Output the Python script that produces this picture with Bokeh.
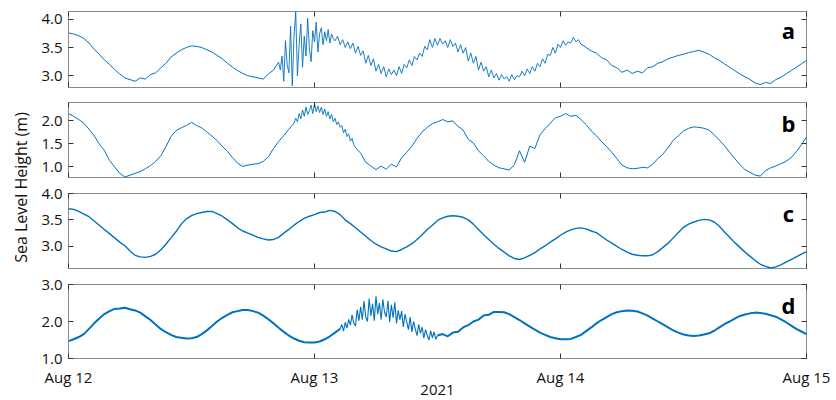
import math
from datetime import datetime, timedelta
from bokeh.plotting import figure
from bokeh.layouts import column, row
from bokeh.models import (LinearAxis, DatetimeAxis, FixedTicker, Range1d, Label,
                          PrintfTickFormatter, CustomJSTickFormatter, DatetimeTickFormatter)
from bokeh.embed import file_html
from bokeh.resources import INLINE

# ---------------- data: main series sampled every 30 min, Aug 12 00:00 -> Aug 15 00:00 ----------------
start_time = datetime(2021, 8, 12)
step_minutes = 30

sea_a = [
    3.76, 3.74, 3.71, 3.66, 3.58, 3.47, 3.38, 3.28, 3.20, 3.11, 3.03, 2.96,
    2.93, 2.90, 2.96, 2.94, 3.02, 3.05, 3.14, 3.22, 3.33, 3.40, 3.46, 3.50,
    3.53, 3.52, 3.50, 3.46, 3.42, 3.36, 3.30, 3.22, 3.15, 3.09, 3.04, 3.00,
    2.98, 2.96, 2.94, 3.03, 3.10, 3.24, 3.30, 3.40, 3.50, 3.55, 3.60, 3.62,
    3.66, 3.68, 3.68, 3.66, 3.62, 3.60, 3.56, 3.52, 3.46, 3.38, 3.30, 3.22,
    3.14, 3.09, 3.06, 3.06, 3.08, 3.14, 3.22, 3.29, 3.36, 3.45, 3.55, 3.58,
    3.60, 3.60, 3.58, 3.54, 3.48, 3.40, 3.32, 3.25, 3.18, 3.11, 3.04, 3.00,
    2.97, 2.96, 2.96, 2.98, 3.02, 3.06, 3.10, 3.16, 3.22, 3.32, 3.42, 3.50,
    3.56, 3.60, 3.62, 3.60, 3.56, 3.50, 3.44, 3.40, 3.32, 3.28, 3.18, 3.14,
    3.06, 3.10, 3.04, 3.08, 3.05, 3.14, 3.16, 3.22, 3.25, 3.30, 3.33, 3.36,
    3.38, 3.41, 3.43, 3.45, 3.42, 3.38, 3.32, 3.27, 3.21, 3.15, 3.09, 3.03,
    2.98, 2.93, 2.87, 2.84, 2.88, 2.86, 2.93, 2.97, 3.03, 3.09, 3.15, 3.21,
    3.27,
]

sea_b = [
    2.16, 2.10, 2.03, 1.95, 1.82, 1.68, 1.50, 1.36, 1.14, 1.00, 0.86, 0.78,
    0.82, 0.86, 0.90, 0.96, 1.03, 1.12, 1.24, 1.44, 1.66, 1.79, 1.85, 1.90,
    1.97, 1.90, 1.85, 1.76, 1.67, 1.57, 1.45, 1.34, 1.20, 1.08, 1.01, 1.04,
    1.06, 1.07, 1.12, 1.22, 1.40, 1.55, 1.68, 1.82, 1.95, 2.05, 2.15, 2.20,
    2.25, 2.25, 2.20, 2.10, 1.98, 1.90, 1.78, 1.62, 1.42, 1.30, 1.10, 1.02,
    0.94, 1.02, 0.95, 1.06, 1.00, 1.20, 1.32, 1.45, 1.62, 1.76, 1.86, 1.94,
    1.98, 2.03, 1.98, 2.00, 1.88, 1.80, 1.60, 1.52, 1.35, 1.24, 1.12, 1.04,
    0.98, 0.96, 0.93, 1.05, 1.35, 1.10, 1.45, 1.40, 1.70, 1.83, 1.95, 2.07,
    2.10, 2.16, 2.10, 2.12, 2.03, 1.92, 1.78, 1.68, 1.55, 1.44, 1.32, 1.18,
    1.04, 0.98, 0.96, 0.97, 0.99, 0.98, 1.06, 1.18, 1.28, 1.42, 1.58, 1.68,
    1.78, 1.84, 1.87, 1.86, 1.84, 1.80, 1.70, 1.58, 1.46, 1.32, 1.18, 1.05,
    0.94, 0.88, 0.82, 0.80, 0.92, 0.98, 1.02, 1.07, 1.12, 1.20, 1.33, 1.48,
    1.65,
]

sea_c = [
    3.71, 3.70, 3.66, 3.61, 3.56, 3.48, 3.40, 3.32, 3.24, 3.16, 3.08, 3.01,
    2.91, 2.83, 2.80, 2.79, 2.81, 2.85, 2.93, 3.04, 3.16, 3.28, 3.42, 3.52,
    3.58, 3.62, 3.64, 3.66, 3.66, 3.62, 3.57, 3.50, 3.43, 3.35, 3.29, 3.25,
    3.21, 3.17, 3.14, 3.12, 3.13, 3.17, 3.25, 3.32, 3.40, 3.47, 3.53, 3.57,
    3.60, 3.64, 3.65, 3.68, 3.66, 3.60, 3.50, 3.43, 3.35, 3.27, 3.19, 3.11,
    3.04, 2.99, 2.95, 2.91, 2.90, 2.94, 2.99, 3.05, 3.13, 3.22, 3.32, 3.40,
    3.49, 3.54, 3.57, 3.58, 3.57, 3.55, 3.50, 3.42, 3.32, 3.22, 3.13, 3.04,
    2.96, 2.89, 2.82, 2.77, 2.75, 2.78, 2.83, 2.88, 2.95, 3.01, 3.08, 3.14,
    3.21, 3.27, 3.31, 3.34, 3.35, 3.33, 3.29, 3.26, 3.19, 3.12, 3.06, 3.00,
    2.94, 2.89, 2.85, 2.83, 2.82, 2.82, 2.84, 2.90, 2.98, 3.06, 3.16, 3.26,
    3.36, 3.42, 3.46, 3.49, 3.51, 3.50, 3.46, 3.38, 3.27, 3.17, 3.07, 2.98,
    2.89, 2.81, 2.73, 2.66, 2.62, 2.59, 2.61, 2.65, 2.70, 2.75, 2.80, 2.85,
    2.90,
]

sea_d = [
    1.47, 1.52, 1.58, 1.66, 1.80, 1.95, 2.08, 2.20, 2.28, 2.34, 2.35, 2.37,
    2.33, 2.30, 2.24, 2.14, 2.04, 1.92, 1.80, 1.71, 1.64, 1.58, 1.56, 1.54,
    1.55, 1.58, 1.66, 1.76, 1.88, 2.00, 2.10, 2.18, 2.25, 2.28, 2.31, 2.31,
    2.28, 2.24, 2.16, 2.06, 1.95, 1.83, 1.72, 1.62, 1.54, 1.48, 1.44, 1.43,
    1.43, 1.46, 1.52, 1.60, 1.70, 1.80, 1.90, 2.00, 2.10, 2.20, 2.25, 2.30,
    2.30, 2.30, 2.28, 2.25, 2.15, 2.05, 1.95, 1.85, 1.75, 1.68, 1.63, 1.60,
    1.62, 1.66, 1.60, 1.70, 1.72, 1.84, 1.90, 2.00, 2.05, 2.16, 2.18, 2.26,
    2.26, 2.25, 2.20, 2.12, 2.04, 1.95, 1.86, 1.78, 1.70, 1.64, 1.58, 1.55,
    1.52, 1.52, 1.53, 1.58, 1.64, 1.74, 1.84, 1.95, 2.04, 2.12, 2.20, 2.25,
    2.28, 2.30, 2.29, 2.27, 2.22, 2.16, 2.08, 2.00, 1.92, 1.84, 1.76, 1.70,
    1.65, 1.62, 1.61, 1.62, 1.65, 1.68, 1.75, 1.84, 1.93, 2.00, 2.08, 2.15,
    2.19, 2.22, 2.24, 2.23, 2.21, 2.17, 2.13, 2.06, 1.98, 1.89, 1.80, 1.73,
    1.66,
]

# ---------------- noisy stretches, read at finer steps (replace the main series there) ----------------
burst_a_start = datetime(2021, 8, 12, 20, 30)
burst_a_step = 10
burst_a = [
    3.24, 3.10, 3.35, 2.90, 3.62, 3.20, 3.05, 3.88, 2.82, 3.70, 4.14, 3.00,
    3.55, 3.92, 3.15, 3.70, 3.35, 4.02, 3.48, 3.25, 3.80, 3.60, 3.95, 3.42,
    3.75, 3.85, 3.55, 3.78, 3.62, 3.82, 3.58, 3.74, 3.66, 3.62,
]

noise_a_start = datetime(2021, 8, 13, 2, 0)
noise_a_step = 15
noise_a = [
    3.62, 3.70, 3.55, 3.64, 3.50, 3.60, 3.48, 3.58, 3.40, 3.52, 3.36, 3.44,
    3.22, 3.36, 3.18, 3.30, 3.08, 3.20, 3.04, 3.16, 2.98, 3.12, 3.02, 3.10,
    3.00, 3.16, 3.04, 3.20, 3.14, 3.28, 3.18, 3.34, 3.28, 3.40, 3.34, 3.52,
    3.46, 3.64, 3.50, 3.66, 3.54, 3.66, 3.56, 3.62, 3.50, 3.64, 3.52, 3.58,
    3.42, 3.55, 3.40, 3.50, 3.26, 3.40, 3.22, 3.34, 3.10, 3.24, 3.08, 3.16,
    2.98, 3.10, 2.96, 3.04, 2.92, 3.02, 2.94, 2.98, 2.90, 3.02, 2.93, 3.00,
    2.98, 3.08, 3.00, 3.12, 3.04, 3.16, 3.08, 3.22, 3.16, 3.30, 3.22, 3.38,
    3.36, 3.50, 3.40, 3.56, 3.50, 3.62, 3.54, 3.60, 3.58, 3.68, 3.60, 3.64,
    3.56,
]

burst_b_start = datetime(2021, 8, 12, 22, 0)
burst_b_step = 10
burst_b = [
    1.95, 2.06, 1.98, 2.16, 2.04, 2.24, 2.10, 2.30, 2.14, 2.22, 2.34, 2.16,
    2.38, 2.20, 2.32, 2.18, 2.30, 2.14, 2.26, 2.10, 2.20, 2.04, 2.14, 1.98,
    2.06, 1.92, 1.98, 1.86, 1.90, 1.74, 1.82, 1.66, 1.72, 1.56, 1.62, 1.48,
    1.42,
]

burst_d_start = datetime(2021, 8, 13, 2, 30)
burst_d_step = 10
burst_d = [
    1.80, 1.92, 1.74, 1.98, 1.82, 2.06, 1.90, 2.18, 1.95, 1.88, 2.32, 2.02,
    2.40, 2.05, 2.55, 2.12, 2.00, 2.62, 2.15, 2.48, 2.02, 2.68, 2.20, 2.50,
    2.05, 2.60, 2.25, 2.12, 2.56, 1.98, 2.45, 2.10, 2.52, 1.95, 2.30, 2.05,
    2.28, 1.85, 2.20, 1.98, 1.78, 2.12, 1.72, 2.00, 1.80, 1.62, 1.92, 1.68,
    1.85, 1.55, 1.78, 1.62, 1.50, 1.75, 1.56, 1.72, 1.52, 1.62,
]

panel_series = [sea_a, sea_b, sea_c, sea_d]
panel_bursts = [
    [(burst_a_start, burst_a_step, burst_a), (noise_a_start, noise_a_step, noise_a)],
    [(burst_b_start, burst_b_step, burst_b)],
    [],
    [(burst_d_start, burst_d_step, burst_d)],
]
panel_letters = ["a", "b", "c", "d"]
y_ranges = [(2.79, 4.14), (0.77, 2.40), (2.58, 4.0), (1.0, 3.0)]
y_ticks = [[3.0, 3.5, 4.0], [1.0, 1.5, 2.0], [3.0, 3.5, 4.0], [1.0, 2.0, 3.0]]
x_tick_days = [datetime(2021, 8, 12), datetime(2021, 8, 13), datetime(2021, 8, 14), datetime(2021, 8, 15)]
x_axis_title = "2021"
y_axis_title = "Sea Level Height (m)"

# ---------------- styling / layout ----------------
LINE_COLOR = "#0072BD"
FONT = "Open Sans"
TICK_COLOR = "#333333"
FRAME_COLOR = "#8a8a8a"
LABEL_W = 38
LEFT_B = 30
RIGHT_B = 26
FRAME_W = 738
FIG_W = LEFT_B + FRAME_W + RIGHT_B
line_widths = [1.0, 1.0, 1.4, 2.0]
burst_widths = [0.9, 0.9, 1.0, 1.1]
borders = [(11, 76, 7), (8, 75, 7), (9, 75, 7), (9, 74, 42)]   # top, frame, bottom
letter_offsets = [-18, -20, -19, -20]

times = [start_time + timedelta(minutes=step_minutes * i) for i in range(len(sea_a))]
x_start = x_tick_days[0]
x_end = x_tick_days[-1]
tick_ms = [(d - datetime(1970, 1, 1)).total_seconds() * 1000.0 for d in x_tick_days]


def style_axis(ax, labels=True):
    ax.axis_line_color = None
    ax.major_tick_in = 5
    ax.major_tick_out = 0
    ax.minor_tick_in = 0
    ax.minor_tick_out = 0
    ax.major_tick_line_color = TICK_COLOR
    ax.major_tick_line_width = 1
    if labels:
        ax.major_label_text_font = FONT
        ax.major_label_text_font_size = "15px"
        ax.major_label_text_color = "#111111"
    else:
        ax.formatter = CustomJSTickFormatter(code="return ''")
        ax.major_label_text_font_size = "0px"
        ax.major_label_standoff = 0


figs = []
for i, (series, letter) in enumerate(zip(panel_series, panel_letters)):
    last = i == len(panel_series) - 1
    top_b, frame_h, bottom_b = borders[i]
    p = figure(width=FIG_W, height=top_b + frame_h + bottom_b, x_axis_type="datetime",
               x_range=Range1d(x_start, x_end), y_range=Range1d(*y_ranges[i]),
               output_backend="svg", toolbar_location=None,
               min_border_left=LEFT_B, min_border_right=RIGHT_B,
               min_border_top=top_b, min_border_bottom=bottom_b)
    p.grid.visible = False
    p.outline_line_color = FRAME_COLOR
    p.outline_line_width = 1
    p.background_fill_color = "white"
    p.border_fill_color = "white"

    # windows covered by finer-step noisy readings
    windows = []
    for (b_start, b_step, b_vals) in panel_bursts[i]:
        b_times = [b_start + timedelta(minutes=b_step * k) for k in range(len(b_vals))]
        windows.append((b_times[0], b_times[-1]))
        p.line(b_times, b_vals, line_color=LINE_COLOR, line_width=burst_widths[i])
    main_vals = [float("nan") if any(ws < t < we for ws, we in windows) else v
                 for t, v in zip(times, series)]
    p.line(times, main_vals, line_color=LINE_COLOR, line_width=line_widths[i])

    yax = p.yaxis[0]
    yax.ticker = FixedTicker(ticks=y_ticks[i])
    yax.formatter = PrintfTickFormatter(format="%.1f")
    style_axis(yax, True)
    yax.major_label_standoff = 6

    rax = LinearAxis(ticker=FixedTicker(ticks=y_ticks[i]))
    style_axis(rax, False)
    p.add_layout(rax, "right")

    xax = p.xaxis[0]
    xax.ticker = FixedTicker(ticks=tick_ms)
    if last:
        style_axis(xax, True)
        xax.formatter = DatetimeTickFormatter(days="%b %d", hours="%b %d", months="%b %d",
                                              minutes="%b %d", years="%b %d")
        xax.major_label_standoff = 8
        xax.axis_label = x_axis_title
        xax.axis_label_text_font = FONT
        xax.axis_label_text_font_size = "15px"
        xax.axis_label_text_font_style = "normal"
        xax.axis_label_text_color = "#111111"
        xax.axis_label_standoff = -5
    else:
        style_axis(xax, False)

    tax = DatetimeAxis(ticker=FixedTicker(ticks=tick_ms))
    style_axis(tax, False)
    p.add_layout(tax, "above")

    p.add_layout(Label(x=x_end, y=y_ranges[i][1], text=letter, x_offset=-18, y_offset=letter_offsets[i],
                       text_align="center", text_baseline="middle",
                       text_font=FONT, text_font_style="bold",
                       text_font_size="22px", text_color="#000000"))
    figs.append(p)

total_h = sum(f.height for f in figs)
lab = figure(width=LABEL_W, height=total_h, x_range=Range1d(0, LABEL_W), y_range=Range1d(0, total_h),
             output_backend="svg", toolbar_location=None, min_border=0)
lab.axis.visible = False
lab.grid.visible = False
lab.outline_line_color = None
lab.add_layout(Label(x=20, y=total_h - 187, text=y_axis_title, angle=math.pi / 2,
                     text_align="center", text_baseline="middle",
                     text_font=FONT, text_font_size="16px", text_color="#111111"))

layout = row(lab, column(*figs, spacing=0), spacing=0)

open("out.html", "w").write(file_html(layout, INLINE))
